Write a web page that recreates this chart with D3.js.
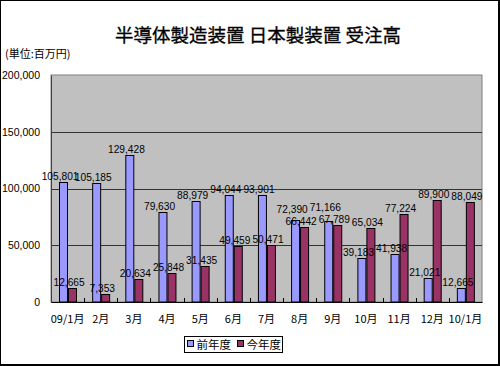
<!DOCTYPE html>
<html><head><meta charset="utf-8">
<script src="https://cdn.jsdelivr.net/npm/d3@7"></script>
<style>body{margin:0;background:#fff}svg{display:block}</style>
</head><body>
<script>
const categories = ["09/1月","2月","3月","4月","5月","6月","7月","8月","9月","10月","11月","12月","10/1月"];
const seriesNames = ["前年度","今年度"];
const prevYear = [105801,105185,129428,79630,88979,94044,93901,72390,71166,39183,41938,21021,12665];
const thisYear = [12665,7353,20634,25848,31435,49459,50471,66442,67789,65034,77224,89900,88049];
const yTicks = [0,50000,100000,150000,200000];
const title = "半導体製造装置 日本製装置 受注高";
const unitLabel = "(単位:百万円)";

const W = 500, H = 366;
const colors = {"前年度":"#9999ff","今年度":"#993366"};
const svg = d3.select("body").append("svg").attr("width",W).attr("height",H);
const jp = "'Noto Sans CJK JP','Noto Sans',sans-serif";
const num = "'Liberation Sans Narrow','Liberation Sans',Arial,sans-serif";

// outer frame
svg.append("rect").attr("x",0).attr("y",0).attr("width",W).attr("height",H).attr("fill","#000");
svg.append("rect").attr("x",1).attr("y",1).attr("width",497).attr("height",363).attr("fill","#fff");

const L = 51, R = 482, T = 75, B = 302;
const x = d3.scaleBand().domain(categories).range([L,R]).padding(0);
const bw = x.bandwidth();
const x1 = d3.scaleBand().domain(seriesNames).range([(bw-18)/2,(bw+18)/2]);
const y = d3.scaleLinear().domain([0,200000]).range([B,T]);

// plot area
svg.append("rect").attr("x",L).attr("y",T).attr("width",R-L).attr("height",B-T)
  .attr("fill","#c0c0c0").attr("stroke","#808080").attr("stroke-width",1);

// gridlines
svg.append("g").selectAll("line").data(yTicks.filter(d=>d>0 && d<200000)).join("line")
  .attr("x1",L).attr("x2",R).attr("y1",d=>Math.round(y(d))+0.5).attr("y2",d=>Math.round(y(d))+0.5)
  .attr("stroke","#333").attr("stroke-width",1);

// y axis
const yAxis = d3.axisLeft(y).tickValues(yTicks).tickSize(0).tickPadding(11).tickFormat(d3.format(","));
const gy = svg.append("g").attr("transform",`translate(${L},0)`).call(yAxis);
gy.select(".domain").attr("stroke","#404040");
gy.selectAll("text").attr("font-family","'Liberation Sans',Arial,sans-serif").attr("font-size","10.5px").attr("fill","#000");

// x axis
const xAxis = d3.axisBottom(x).tickSize(0).tickPadding(13);
const gx = svg.append("g").attr("transform",`translate(0,${B})`).call(xAxis);
gx.select(".domain").attr("stroke","#000");
gx.selectAll("text").attr("font-family",jp).attr("font-size","11px").attr("fill","#000");
// inside tick marks at category boundaries
svg.append("g").selectAll("line").data(categories.slice(1)).join("line")
  .attr("x1",d=>Math.round(x(d))+0.5).attr("x2",d=>Math.round(x(d))+0.5)
  .attr("y1",B).attr("y2",B-4).attr("stroke","#000");

// bars
const rows = categories.map((c,i)=>({cat:c, vals:[{s:"前年度",v:prevYear[i]},{s:"今年度",v:thisYear[i]}]}));
// label layout: raise the higher label if it collides with the other one in the same group
rows.forEach(r=>{
  const a = r.vals[0], b = r.vals[1];
  a.ly = y(a.v)-2; b.ly = y(b.v)-2;
  if (a.ly < b.ly && b.ly - a.ly < 12) a.ly = b.ly - 12;
  else if (b.ly < a.ly && a.ly - b.ly < 12) b.ly = a.ly - 12;
});
const g = svg.append("g").selectAll("g").data(rows).join("g")
  .attr("transform",d=>`translate(${x(d.cat)},0)`);
g.selectAll("rect").data(d=>d.vals).join("rect")
  .attr("x",d=>Math.round(x1(d.s))+0.5).attr("width",x1.bandwidth()-1)
  .attr("y",d=>Math.round(y(d.v))+0.5).attr("height",d=>B-Math.round(y(d.v))-0.5)
  .attr("fill",d=>colors[d.s]).attr("stroke","#000").attr("stroke-width",1);
g.selectAll("text").data(d=>d.vals).join("text")
  .attr("x",d=>x1(d.s)+x1.bandwidth()/2-3).attr("y",d=>d.ly)
  .attr("text-anchor","middle").attr("font-family",num).attr("font-size","10.2px").attr("fill","#000")
  .text(d=>d3.format(",")(d.v));

// title
svg.append("text").attr("x",258).attr("y",42).attr("text-anchor","middle")
  .attr("font-family",jp).attr("font-size","18.5px").attr("fill","#000")
  .attr("stroke","#000").attr("stroke-width",0.3).text(title);
svg.append("text").attr("x",5).attr("y",58)
  .attr("font-family",jp).attr("font-size","11px").attr("fill","#000").text(unitLabel);

// legend
const lg = svg.append("g");
lg.append("rect").attr("x",184.5).attr("y",336.5).attr("width",98).attr("height",16)
  .attr("fill","#fff").attr("stroke","#000");
const lx = [187.5, 237.5];
seriesNames.forEach((s,i)=>{
  lg.append("rect").attr("x",lx[i]).attr("y",340.5).attr("width",6).attr("height",6)
    .attr("fill",colors[s]).attr("stroke","#000");
  lg.append("text").attr("x",lx[i]+9).attr("y",348.5)
    .attr("font-family",jp).attr("font-size","11.5px").attr("fill","#000").text(s);
});
</script>
</body></html>
